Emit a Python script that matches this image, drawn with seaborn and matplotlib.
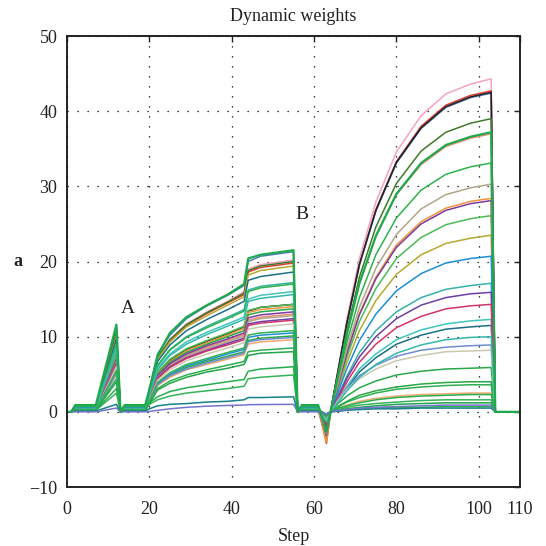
import numpy as np
import pandas as pd
import matplotlib
matplotlib.use("Agg")
import matplotlib.pyplot as plt
import seaborn as sns

# ---- step grids of the three phases ----
steps_a = [0, 1, 2, 7, 12, 13, 14]
steps_b = [19, 20, 22, 25, 29, 34, 39, 43, 44, 47, 55]
steps_c = [56, 57, 61, 63, 64, 66, 68, 71, 75, 80, 86, 92, 98, 103, 104, 110]

series_names = [f"w{i:02d}" for i in range(1, 33)]

colors = ["#f4a3c0", "#e03c31", "#4f7cc4", "#222222", "#3d7a2a", "#ee8a78",
          "#b8a830", "#1b6f86", "#35b3a6", "#2db34a", "#40c4bc", "#4cbb55",
          "#f0943a", "#2aa84a", "#7a3b9c", "#b3a58c", "#1c8ed6", "#28a745",
          "#f2a870", "#2fae50", "#6c3fa5", "#d2346a", "#6f8dd0", "#c9c9b0",
          "#33b9ae", "#27ad4d", "#36b35a", "#22a54a", "#31b04f", "#17808a",
          "#7474cc", "#1ea94c"]

# plateau level (steps 2-7, 14-19, 57-61)
plateau = [0.5, 0.6, 0.7, 0.4, 0.6, 0.3, 0.5, 0.6, 0.5, 0.7, 0.4, 0.5,
           0.4, 0.3, 0.4, 0.3, 0.5, 0.4, 0.3, 0.3, 0.3, 0.4, 0.3, 0.2,
           0.4, 0.2, 0.2, 0.2, 0.3, 0.1, 0.0, 0.9]

# peak of event A (step 12)
peak_a = [10.9, 10.2, 11.3, 7.6, 10.6, 7.0, 10.0, 9.7, 9.0, 8.9, 8.4, 7.5,
          7.3, 7.1, 6.9, 6.6, 5.4, 5.2, 5.0, 4.4, 6.4, 6.3, 5.1, 6.0,
          8.1, 3.1, 2.5, 4.0, 5.5, 1.0, 0.5, 11.6]

# phase B values at steps 20 .. 55
phase_b = [
    [2.8, 7.3, 9.7, 11.7, 13.3, 14.7, 16.0, 19.0, 19.6, 20.2],
    [2.8, 7.1, 9.5, 11.5, 13.1, 14.5, 15.6, 18.6, 19.2, 19.8],
    [3.0, 7.7, 10.2, 12.4, 14.1, 15.5, 16.8, 20.0, 20.7, 21.3],
    [2.0, 5.1, 6.9, 8.3, 9.4, 10.4, 11.3, 13.4, 13.9, 14.3],
    [2.8, 7.2, 9.6, 11.6, 13.2, 14.6, 15.8, 18.8, 19.4, 20.0],
    [1.8, 4.7, 6.2, 7.5, 8.6, 9.5, 10.3, 12.2, 12.6, 13.0],
    [2.7, 7.0, 9.3, 11.3, 12.8, 14.2, 15.3, 18.2, 18.8, 19.4],
    [2.6, 6.7, 8.9, 10.8, 12.3, 13.6, 14.7, 17.5, 18.0, 18.6],
    [2.4, 6.2, 8.3, 10.0, 11.4, 12.6, 13.6, 16.2, 16.7, 17.2],
    [2.4, 6.1, 8.2, 9.9, 11.2, 12.4, 13.4, 16.0, 16.5, 17.0],
    [2.2, 5.8, 7.7, 9.3, 10.6, 11.7, 12.6, 15.0, 15.5, 16.0],
    [2.1, 5.3, 7.0, 8.4, 9.5, 10.5, 11.4, 13.5, 13.9, 14.3],
    [2.0, 5.0, 6.7, 8.1, 9.2, 10.2, 11.1, 13.2, 13.6, 14.0],
    [1.9, 4.9, 6.6, 7.9, 9.0, 10.0, 10.8, 12.9, 13.3, 13.7],
    [1.9, 4.8, 6.4, 7.7, 8.8, 9.7, 10.5, 12.5, 12.9, 13.3],
    [1.8, 4.6, 6.1, 7.4, 8.4, 9.3, 10.1, 12.0, 12.4, 12.8],
    [1.5, 3.8, 5.0, 6.1, 6.9, 7.7, 8.3, 9.9, 10.2, 10.5],
    [1.4, 3.6, 4.8, 5.9, 6.7, 7.4, 8.0, 9.5, 9.8, 10.1],
    [1.3, 3.5, 4.6, 5.6, 6.3, 7.0, 7.6, 9.0, 9.3, 9.6],
    [1.2, 3.1, 4.1, 4.9, 5.6, 6.2, 6.7, 8.0, 8.2, 8.5],
    [1.7, 4.5, 6.0, 7.2, 8.2, 9.1, 9.8, 11.7, 12.0, 12.4],
    [1.7, 4.4, 5.9, 7.1, 8.1, 8.9, 9.6, 11.5, 11.8, 12.2],
    [1.4, 3.6, 4.8, 5.7, 6.5, 7.2, 7.8, 9.3, 9.6, 9.9],
    [1.6, 4.2, 5.6, 6.8, 7.7, 8.5, 9.2, 11.0, 11.3, 11.7],
    [2.2, 5.6, 7.5, 9.0, 10.3, 11.4, 12.3, 14.7, 15.1, 15.6],
    [1.2, 2.0, 2.7, 3.2, 3.6, 4.0, 4.3, 5.4, 5.7, 6.0],
    [1.0, 1.6, 2.1, 2.5, 2.8, 3.1, 3.4, 4.4, 4.6, 4.9],
    [1.1, 2.9, 3.8, 4.6, 5.3, 5.8, 6.3, 7.5, 7.8, 8.0],
    [1.5, 3.9, 5.2, 6.3, 7.1, 7.9, 8.5, 10.2, 10.5, 10.8],
    [0.4, 0.8, 1.0, 1.1, 1.3, 1.4, 1.6, 1.9, 1.9, 2.0],
    [0.05, 0.2, 0.4, 0.6, 0.75, 0.85, 0.9, 0.95, 0.97, 1.0],
    [3.0, 7.5, 10.5, 12.6, 14.2, 15.6, 17.0, 20.4, 20.9, 21.5],
]

# dip (event B, step 63)
dip = [-2.5, -4.2, -3.0, -3.5, -3.2, -3.9, -2.2, -1.4, -1.8, -3.3, -1.5, -2.8,
       -4.0, -0.9, -3.1, -2.9, -2.0, -0.7, -0.6, -0.8, -1.9, -1.7, -1.2, -1.1,
       -1.3, -0.5, -0.4, -0.4, -0.3, -0.3, -0.3, -2.7]

# phase C values at steps 66 .. 103
phase_c = [
    [6.2, 12.4, 20.4, 27.9, 34.6, 39.4, 42.3, 43.6, 44.3],
    [6.0, 12.0, 19.6, 26.9, 33.3, 38.0, 40.8, 42.1, 42.7],
    [5.9, 11.9, 19.5, 26.7, 33.1, 37.7, 40.5, 41.8, 42.4],
    [6.0, 11.9, 19.6, 26.8, 33.2, 37.8, 40.6, 41.9, 42.5],
    [5.5, 10.9, 17.9, 24.6, 30.4, 34.7, 37.2, 38.4, 39.0],
    [5.2, 10.4, 17.0, 23.3, 28.9, 32.9, 35.3, 36.4, 37.0],
    [3.3, 6.6, 10.8, 14.8, 18.3, 20.9, 22.4, 23.1, 23.5],
    [1.6, 3.2, 5.3, 7.2, 9.0, 10.2, 11.0, 11.3, 11.5],
    [2.4, 4.8, 7.9, 10.8, 13.3, 15.2, 16.3, 16.8, 17.1],
    [4.6, 9.3, 15.2, 20.9, 25.8, 29.5, 31.6, 32.6, 33.1],
    [1.7, 3.4, 5.7, 7.7, 9.6, 10.9, 11.7, 12.1, 12.3],
    [3.7, 7.3, 12.0, 16.4, 20.4, 23.2, 24.9, 25.7, 26.1],
    [4.0, 8.0, 13.1, 17.9, 22.2, 25.3, 27.1, 28.0, 28.4],
    [1.2, 2.1, 3.2, 4.1, 4.9, 5.4, 5.7, 5.8, 5.9],
    [3.9, 7.9, 12.9, 17.7, 21.9, 25.0, 26.8, 27.7, 28.1],
    [4.2, 8.5, 13.9, 19.1, 23.6, 27.0, 28.9, 29.8, 30.3],
    [2.9, 5.8, 9.5, 13.0, 16.1, 18.4, 19.8, 20.4, 20.7],
    [0.8, 1.4, 2.2, 2.8, 3.3, 3.7, 3.9, 4.0, 4.0],
    [0.5, 0.9, 1.4, 1.8, 2.1, 2.3, 2.4, 2.5, 2.5],
    [0.7, 1.3, 1.9, 2.5, 3.0, 3.3, 3.5, 3.6, 3.6],
    [2.2, 4.5, 7.3, 10.0, 12.4, 14.2, 15.2, 15.7, 15.9],
    [2.0, 4.0, 6.6, 9.0, 11.2, 12.7, 13.7, 14.1, 14.3],
    [1.8, 3.2, 4.8, 6.2, 7.4, 8.2, 8.6, 8.8, 8.9],
    [1.6, 3.0, 4.4, 5.7, 6.8, 7.5, 8.0, 8.1, 8.2],
    [1.4, 2.8, 4.6, 6.3, 7.8, 8.9, 9.6, 9.9, 10.0],
    [0.5, 0.8, 1.2, 1.6, 1.9, 2.1, 2.2, 2.3, 2.3],
    [0.3, 0.6, 0.9, 1.1, 1.3, 1.5, 1.6, 1.6, 1.6],
    [0.2, 0.4, 0.6, 0.8, 1.0, 1.1, 1.2, 1.2, 1.2],
    [0.1, 0.3, 0.4, 0.5, 0.6, 0.6, 0.7, 0.7, 0.7],
    [0.1, 0.2, 0.3, 0.4, 0.4, 0.5, 0.5, 0.5, 0.5],
    [0.2, 0.3, 0.5, 0.6, 0.7, 0.8, 0.9, 0.9, 0.9],
    [5.2, 10.4, 17.1, 23.4, 29.0, 33.1, 35.5, 36.6, 37.2],
]

x_ticks = [0, 20, 40, 60, 80, 100, 110]
y_ticks = [-10, 0, 10, 20, 30, 40, 50]

# ---- assemble long table ----
all_steps = steps_a + steps_b + steps_c
rows = []
for i, name in enumerate(series_names):
    p = plateau[i]
    vals = ([0.0, 0.0, p, p, peak_a[i], 0.0, p] +
            [p] + phase_b[i] +
            [0.0, p, p, dip[i], 0.0] + phase_c[i] + [0.0, 0.0])
    for s, v in zip(all_steps, vals):
        rows.append({"series": name, "step": s, "value": v})
df = pd.DataFrame(rows)

sns.set_theme(style="white")
plt.rcParams["font.family"] = ["Liberation Serif", "DejaVu Serif"]
plt.rcParams["axes.unicode_minus"] = True

fig = plt.figure(figsize=(5.46, 5.46), dpi=100)
ax = fig.add_axes([67 / 546, 1 - 487 / 546, (520 - 67) / 546, (487 - 36) / 546])

palette = dict(zip(series_names, colors))
sns.lineplot(data=df, x="step", y="value", hue="series", hue_order=series_names,
             palette=palette, sort=False, estimator=None, legend=False,
             linewidth=1.1, ax=ax)
ax.lines[-1].set_linewidth(1.6)

ax.set_xlim(0, 110)
ax.set_ylim(-10, 50)
ax.set_xticks(x_ticks)
ax.set_yticks(y_ticks)
ax.grid(True, color="black", linestyle=(0, (1, 7)), linewidth=0.9)
ax.tick_params(direction="in", length=4, width=1, top=True, right=True,
               labelsize=13, colors="#222222")
ax.tick_params(axis="x", pad=10)
ax.tick_params(axis="y", pad=7)
for sp in ax.spines.values():
    sp.set_color("#222222")
    sp.set_linewidth(1.4)

ax.set_title("Dynamic weights", fontsize=13, pad=11, color="#222222")
ax.set_xlabel("Step", fontsize=13, color="#222222", labelpad=7)
ax.set_ylabel("a", fontsize=13, fontweight="bold", rotation=0, labelpad=8,
              color="#222222", va="center")

ax.text(14.8, 13.8, "A", fontsize=14, ha="center", va="center", color="#222222")
ax.text(57.0, 26.2, "B", fontsize=14, ha="center", va="center", color="#222222")

fig.savefig("out.png", dpi=100)
